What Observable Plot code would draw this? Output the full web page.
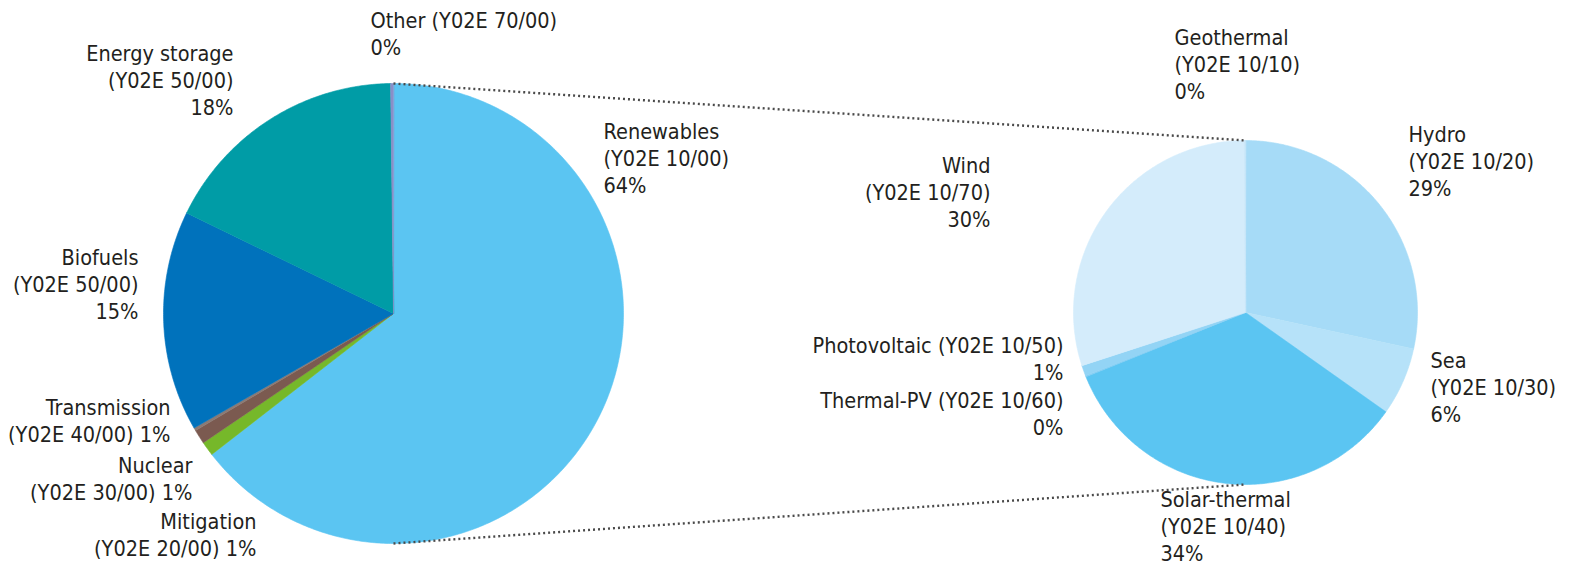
<!DOCTYPE html>
<html>
<head>
<meta charset="utf-8">
<script src="https://cdn.jsdelivr.net/npm/d3@7"></script>
<script src="https://cdn.jsdelivr.net/npm/@observablehq/plot@0.6"></script>
<style>
  html, body { margin: 0; padding: 0; background: #fff; }
  #chart svg { display: block; }
</style>
</head>
<body>
<div id="chart"></div>
<script>
// ---------- data ----------
// Left pie (clockwise from 12 o'clock)
const leftNames  = ["Renewables", "Mitigation", "Nuclear", "Transmission", "Biofuels", "Energy storage", "Other"];
const leftCodes  = ["Y02E 10/00", "Y02E 20/00", "Y02E 30/00", "Y02E 40/00", "Y02E 50/00", "Y02E 50/00", "Y02E 70/00"];
const leftValues = [64.5, 1.0, 1.0, 0.2, 15.5, 17.6, 0.2];
const leftPcts   = ["64%", "1%", "1%", "1%", "15%", "18%", "0%"];
const leftColors = ["#5bc5f2", "#76b82a", "#7b5a50", "#8c7a74", "#0072bc", "#009ca6", "#8a8fc8"];

// Right pie: breakdown of Renewables (clockwise from 12 o'clock)
const rightNames  = ["Hydro", "Sea", "Solar-thermal", "Thermal-PV", "Photovoltaic", "Wind", "Geothermal"];
const rightCodes  = ["Y02E 10/20", "Y02E 10/30", "Y02E 10/40", "Y02E 10/60", "Y02E 10/50", "Y02E 10/70", "Y02E 10/10"];
const rightValues = [28.4, 6.4, 34.1, 0.1, 1.0, 29.9, 0.1];
const rightPcts   = ["29%", "6%", "34%", "0%", "1%", "30%", "0%"];
const rightColors = ["#a6dbf7", "#b6e2f9", "#5bc5f2", "#7fcdf3", "#93d4f5", "#d4ecfb", "#c8e6f8"];

// ---------- layout ----------
const W = 1570, H = 567;
const leftPie  = {cx: 393,  cy: 313, r: 230};
const rightPie = {cx: 1245, cy: 312, r: 172};

// label layout: [x, first-line centre y, anchor, line style]
// style "3": name / (code) / pct ; "2a": name / (code) pct ; "2b": name (code) / pct
const labelLayout = {
  "Other":          [370, 20,  "start", "2b"],
  "Energy storage": [233, 53,  "end",   "3"],
  "Renewables":     [603, 131, "start", "3"],
  "Biofuels":       [138, 257, "end",   "3"],
  "Transmission":   [170, 407, "end",   "2a"],
  "Nuclear":        [192, 465, "end",   "2a"],
  "Mitigation":     [256, 521, "end",   "2a"],
  "Geothermal":     [1174, 37, "start", "3"],
  "Hydro":          [1408, 134, "start", "3"],
  "Wind":           [990, 165, "end",   "3"],
  "Photovoltaic":   [1063, 345, "end",  "2b"],
  "Thermal-PV":     [1063, 400, "end",  "2b"],
  "Sea":            [1430, 360, "start", "3"],
  "Solar-thermal":  [1160, 499, "start", "3"]
};

const fontSize = 21.5;
const lineGap = 27;

// ---------- build slices ----------
function slices(names, values, pie) {
  const arcs = d3.pie().sort(null).startAngle(0).endAngle(2 * Math.PI)(values);
  const pts = [];
  arcs.forEach((a, i) => {
    const name = names[i];
    pts.push({name, x: pie.cx, y: pie.cy});
    const n = Math.max(2, Math.ceil((a.endAngle - a.startAngle) / 0.01));
    for (let k = 0; k <= n; k++) {
      const t = a.startAngle + (a.endAngle - a.startAngle) * k / n;
      pts.push({name, x: pie.cx + pie.r * Math.sin(t), y: pie.cy - pie.r * Math.cos(t)});
    }
  });
  return pts;
}
const slicePts = [...slices(leftNames, leftValues, leftPie), ...slices(rightNames, rightValues, rightPie)];

// ---------- labels ----------
function labels(names, codes, pcts) {
  return names.map((name, i) => {
    const [x, yc, anchor, style] = labelLayout[name];
    let text;
    if (style === "3") text = `${name}\n(${codes[i]})\n${pcts[i]}`;
    else if (style === "2a") text = `${name}\n(${codes[i]}) ${pcts[i]}`;
    else text = `${name} (${codes[i]})\n${pcts[i]}`;
    return {name, x, y: yc - 0.68 * fontSize + 3, anchor, text};
  });
}
const labelData = [...labels(leftNames, leftCodes, leftPcts), ...labels(rightNames, rightCodes, rightPcts)];

// connector lines (zoom lines) between the pies
const connectors = [
  {x1: leftPie.cx, y1: leftPie.cy - leftPie.r, x2: rightPie.cx, y2: rightPie.cy - rightPie.r},
  {x1: leftPie.cx, y1: leftPie.cy + leftPie.r, x2: rightPie.cx, y2: rightPie.cy + rightPie.r}
];

const font = "'DejaVu Sans Condensed', 'Liberation Sans Narrow', 'Roboto Condensed', 'DejaVu Sans', sans-serif";

const chart = Plot.plot({
  width: W,
  height: H,
  margin: 0,
  style: {fontFamily: font, background: "#fff"},
  x: {domain: [0, W], range: [0, W], axis: null},
  y: {domain: [0, H], range: [0, H], axis: null},
  color: {type: "ordinal", domain: [...leftNames, ...rightNames], range: [...leftColors, ...rightColors]},
  marks: [
    Plot.line(slicePts, {x: "x", y: "y", z: "name", fill: "name", stroke: "name", strokeWidth: 0.6, curve: "linear-closed"}),
    Plot.link(connectors, {x1: "x1", y1: "y1", x2: "x2", y2: "y2", stroke: "#4a4a4a", strokeWidth: 2.4, strokeDasharray: "2,3", strokeLinecap: "butt"}),
    ...["start", "end"].map(anchor =>
      Plot.text(labelData.filter(d => d.anchor === anchor), {
        x: "x", y: "y", text: "text",
        textAnchor: anchor, lineAnchor: "top",
        fontSize, lineHeight: lineGap / fontSize,
        fill: "#231f20"
      })
    )
  ]
});
document.getElementById("chart").appendChild(chart);
</script>
</body>
</html>
